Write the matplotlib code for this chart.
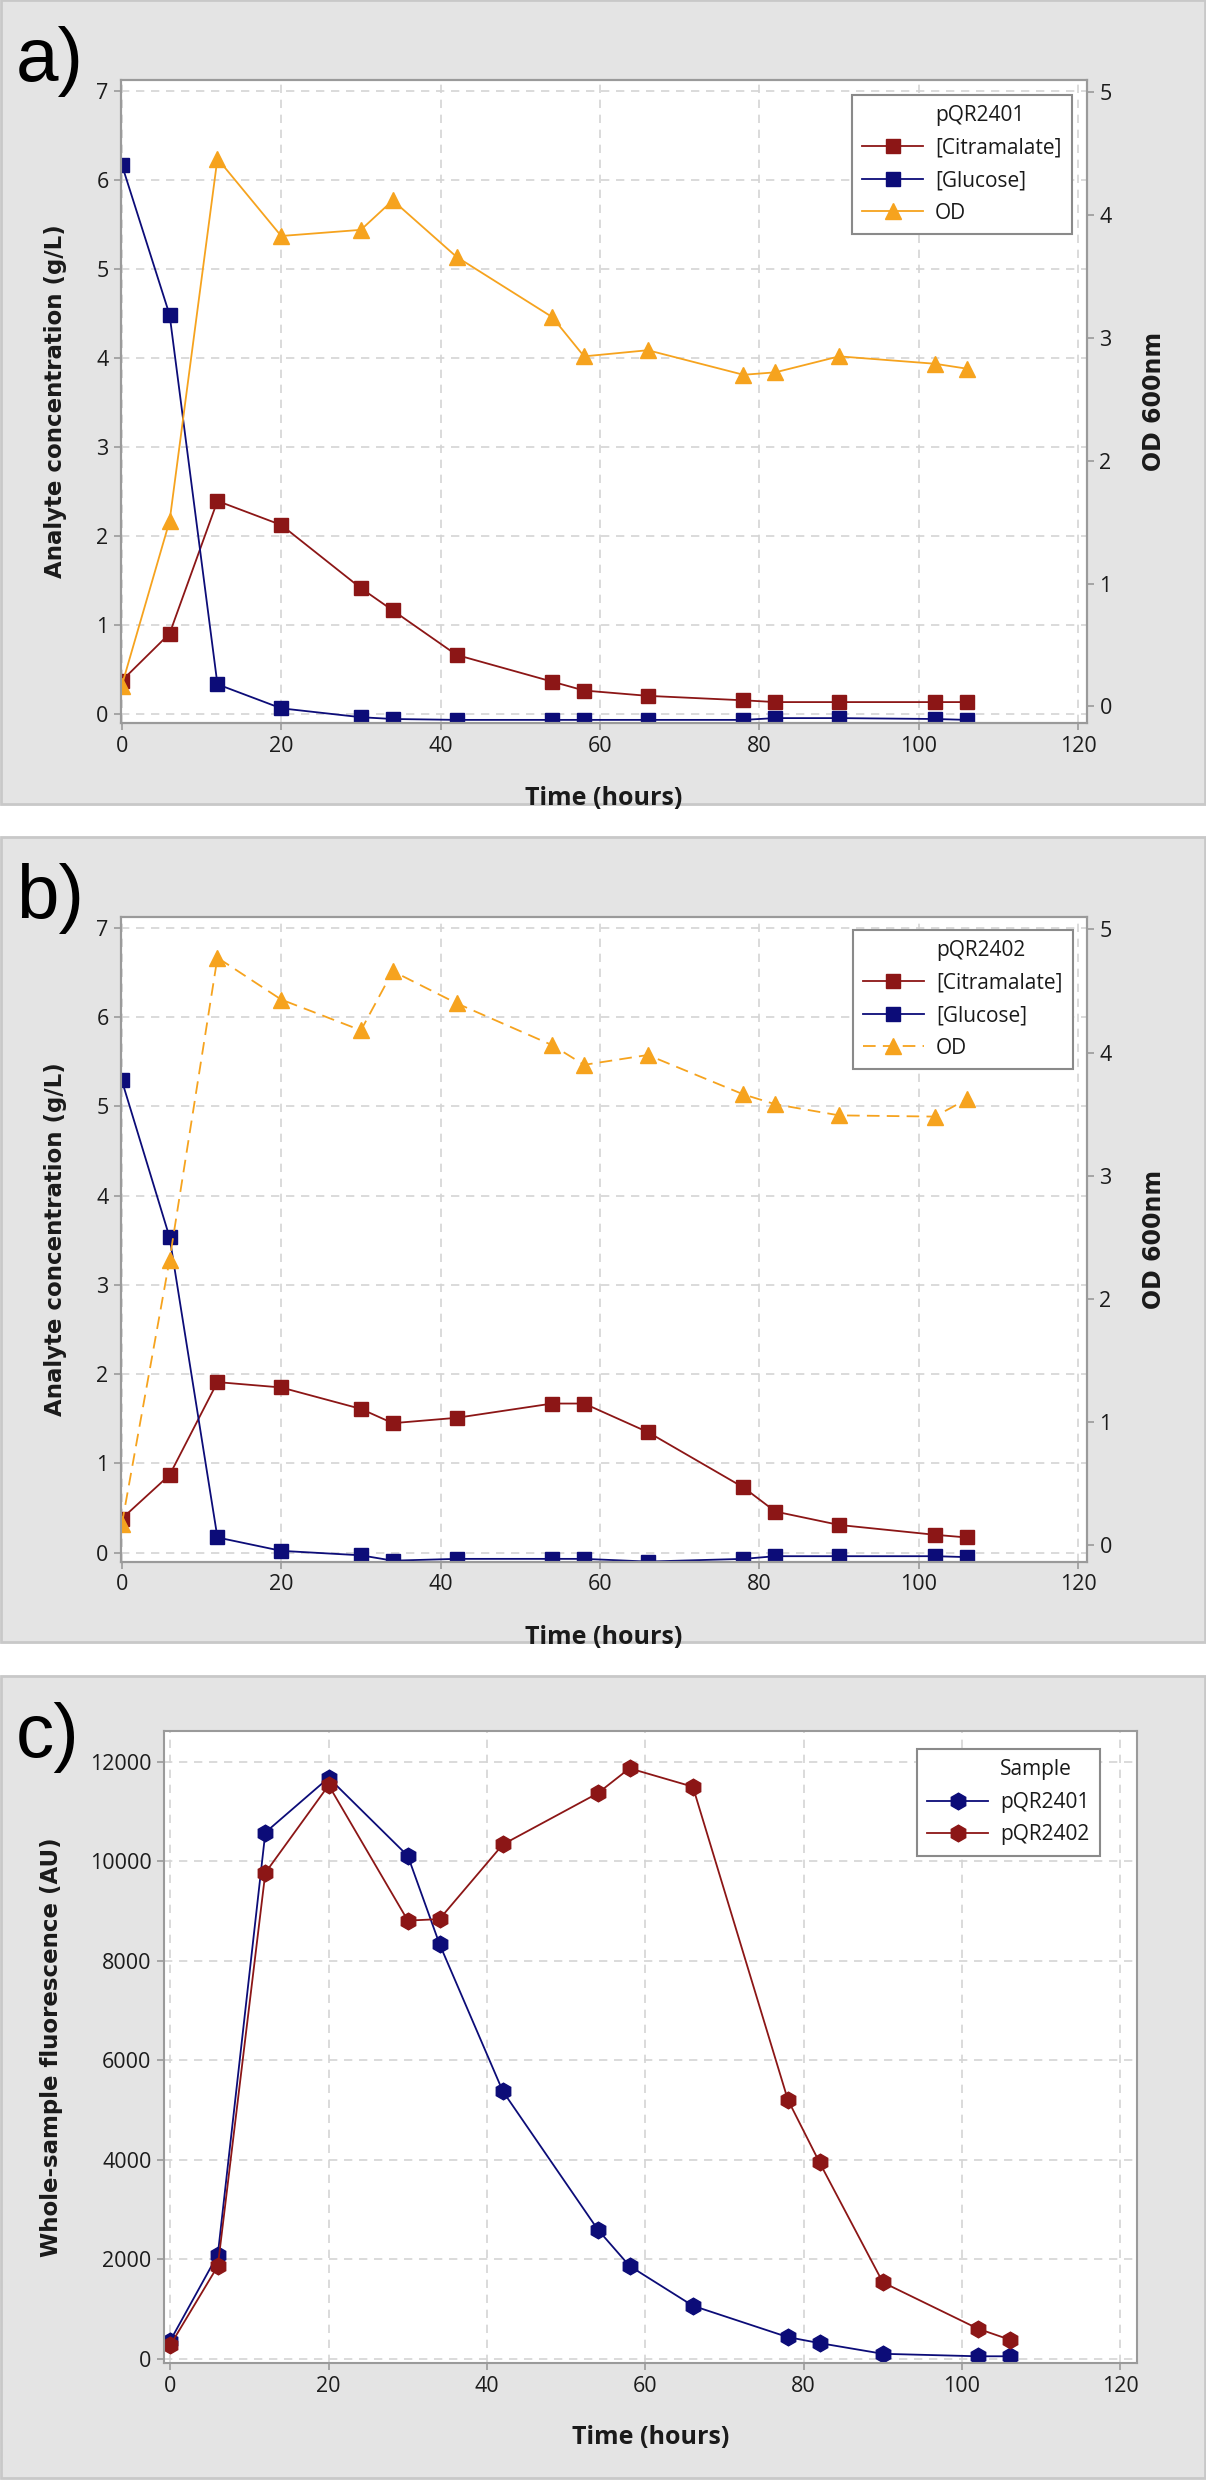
import numpy as np
import matplotlib.pyplot as plt
from matplotlib.patches import Rectangle
from matplotlib.lines import Line2D

W, H = 1206, 2480

time = [0, 6, 12, 20, 30, 34, 42, 54, 58, 66, 78, 82, 90, 102, 106]

# panel a - pQR2401
citra_2401 = [0.37, 0.90, 2.39, 2.12, 1.41, 1.16, 0.66, 0.36, 0.26, 0.20, 0.15, 0.13, 0.13, 0.13, 0.13]
gluc_2401 = [6.17, 4.48, 0.33, 0.06, -0.04, -0.06, -0.07, -0.07, -0.07, -0.07, -0.07, -0.05, -0.05, -0.06, -0.07]
od_2401 = [0.17, 1.51, 4.46, 3.83, 3.88, 4.12, 3.66, 3.17, 2.85, 2.90, 2.70, 2.72, 2.85, 2.79, 2.75]

# panel b - pQR2402
citra_2402 = [0.38, 0.87, 1.91, 1.85, 1.61, 1.45, 1.51, 1.67, 1.67, 1.35, 0.73, 0.46, 0.31, 0.20, 0.17]
gluc_2402 = [5.29, 3.53, 0.17, 0.02, -0.03, -0.09, -0.07, -0.07, -0.07, -0.10, -0.07, -0.04, -0.04, -0.04, -0.05]
od_2402 = [0.17, 2.32, 4.77, 4.43, 4.18, 4.66, 4.40, 4.06, 3.90, 3.98, 3.66, 3.58, 3.49, 3.48, 3.62]

# panel c - fluorescence
fluor_2401 = [370, 2100, 10580, 11680, 10110, 8340, 5380, 2600, 1870, 1070, 440, 320, 105, 55, 55]
fluor_2402 = [280, 1870, 9770, 11530, 8810, 8840, 10340, 11370, 11870, 11500, 5210, 3950, 1540, 610, 390]

x_ticks = [0, 20, 40, 60, 80, 100, 120]
conc_ticks = [0, 1, 2, 3, 4, 5, 6, 7]
od_ticks = [0, 1, 2, 3, 4, 5]
fluor_ticks = [0, 2000, 4000, 6000, 8000, 10000, 12000]

RED = '#8c1616'
NAVY = '#0c0c78'
ORANGE = '#f6a31e'
SPINE = '#9a9a9a'
TICKTXT = '#1c1c1c'
TICKFONT = 'Open Sans'
LABELFONT = 'DejaVu Sans'


def px_rect(left, top, right, bottom):
    return [left / W, 1 - bottom / H, (right - left) / W, (bottom - top) / H]


def style_axes(ax, grid=True):
    for s in ax.spines.values():
        s.set_color(SPINE)
        s.set_linewidth(1.5)
    ax.tick_params(colors=SPINE, labelcolor=TICKTXT, length=5, width=1.2, pad=4)
    for lab in ax.get_xticklabels() + ax.get_yticklabels():
        lab.set_fontfamily(TICKFONT)
        lab.set_fontsize(15.5)
    if grid:
        ax.grid(True, color='#d4d4d4', linestyle=(0, (5, 4)), linewidth=1.2)
        ax.set_axisbelow(True)


def panel_back(top, bottom, letter):
    fig.patches.append(Rectangle((1 / W, 1 - bottom / H), (W - 2) / W, (bottom - top) / H,
                                 transform=fig.transFigure, facecolor='#e4e4e4',
                                 edgecolor='#c8c8c8', linewidth=2, zorder=-10))
    fig.text(16 / W, 1 - (top + 26) / H, letter, fontsize=55, family='Liberation Sans',
             va='top', ha='left')


def time_label(ax):
    ax.set_xlabel('Time (hours)', fontsize=18, fontweight='bold', family=TICKFONT, color='#1a1a1a')
    ax.xaxis.set_label_coords(0.5, -0.098)


def legend_box(ax, handles, anchor):
    leg = ax.legend(handles=handles, loc='upper right', bbox_to_anchor=anchor,
                    borderaxespad=0, fancybox=False, framealpha=1, edgecolor='#8a8a8a',
                    prop={'family': TICKFONT, 'size': 15}, handlelength=2.9,
                    handletextpad=0.6, labelspacing=0.55, borderpad=0.5)
    leg.get_frame().set_linewidth(1.5)
    for t in leg.get_texts():
        t.set_color('#1a1a1a')
    return leg


def analyte_panel(box, strain, citra, gluc, od, od_ls, anchor):
    ax = fig.add_axes(px_rect(*box))
    ax.set_facecolor('white')
    ax.plot(time, citra, color=RED, lw=1.3, marker='s', ms=10.5)
    ax.plot(time, gluc, color=NAVY, lw=1.3, marker='s', ms=10.5)
    ax.set_xlim(-0.1, 121.1)
    ax.set_ylim(-0.105, 7.12)
    ax.set_xticks(x_ticks)
    ax.set_yticks(conc_ticks)
    style_axes(ax)
    ax.set_ylabel('Analyte concentration (g/L)', fontsize=16.5, fontweight='bold',
                  family=LABELFONT, color='#1a1a1a')
    ax.yaxis.set_label_coords(-0.056, 0.5)
    time_label(ax)

    axr = ax.twinx()
    axr.plot(time, od, color=ORANGE, lw=1.3, ls=od_ls, marker='^', ms=12)
    axr.set_ylim(-0.135, 5.10)
    axr.set_yticks(od_ticks)
    style_axes(axr, grid=False)
    axr.set_ylabel('OD 600nm', fontsize=17, fontweight='bold', family=LABELFONT,
                   color='#1a1a1a', rotation=90)
    axr.yaxis.set_label_coords(1.057, 0.5)

    handles = [Line2D([], [], ls='none', label=strain),
               Line2D([], [], color=RED, lw=1.3, marker='s', ms=10.5, label='[Citramalate]'),
               Line2D([], [], color=NAVY, lw=1.3, marker='s', ms=10.5, label='[Glucose]'),
               Line2D([], [], color=ORANGE, lw=1.3, ls=od_ls, marker='^', ms=12, label='OD')]
    legend_box(axr, handles, anchor)
    return ax


fig = plt.figure(figsize=(W / 100, H / 100), dpi=100)
fig.patch.set_facecolor('white')

panel_back(0, 804, 'a)')
panel_back(837, 1642, 'b)')
panel_back(1676, 2478, 'c)')

analyte_panel((121, 80, 1087, 723), 'pQR2401', citra_2401, gluc_2401, od_2401, '-', (0.9845, 0.977))
analyte_panel((121, 917, 1087, 1562), 'pQR2402', citra_2402, gluc_2402, od_2402, (0, (7, 4)), (0.9855, 0.98))

axc = fig.add_axes(px_rect(164, 1731, 1137, 2363))
axc.plot(time, fluor_2401, color=NAVY, lw=1.3, marker='h', ms=12)
axc.plot(time, fluor_2402, color=RED, lw=1.3, marker='h', ms=12)
axc.set_xlim(-0.8, 122.1)
axc.set_ylim(-80, 12620)
axc.set_xticks(x_ticks)
axc.set_yticks(fluor_ticks)
style_axes(axc)
axc.set_ylabel('Whole-sample fluorescence (AU)', fontsize=16.5, fontweight='bold',
               family=LABELFONT, color='#1a1a1a')
axc.yaxis.set_label_coords(-0.104, 0.5)
time_label(axc)
handles_c = [Line2D([], [], ls='none', label='Sample'),
             Line2D([], [], color=NAVY, lw=1.3, marker='h', ms=12, label='pQR2401'),
             Line2D([], [], color=RED, lw=1.3, marker='h', ms=12, label='pQR2402')]
legend_box(axc, handles_c, (0.962, 0.9715))

fig.savefig('out.png', dpi=100)
